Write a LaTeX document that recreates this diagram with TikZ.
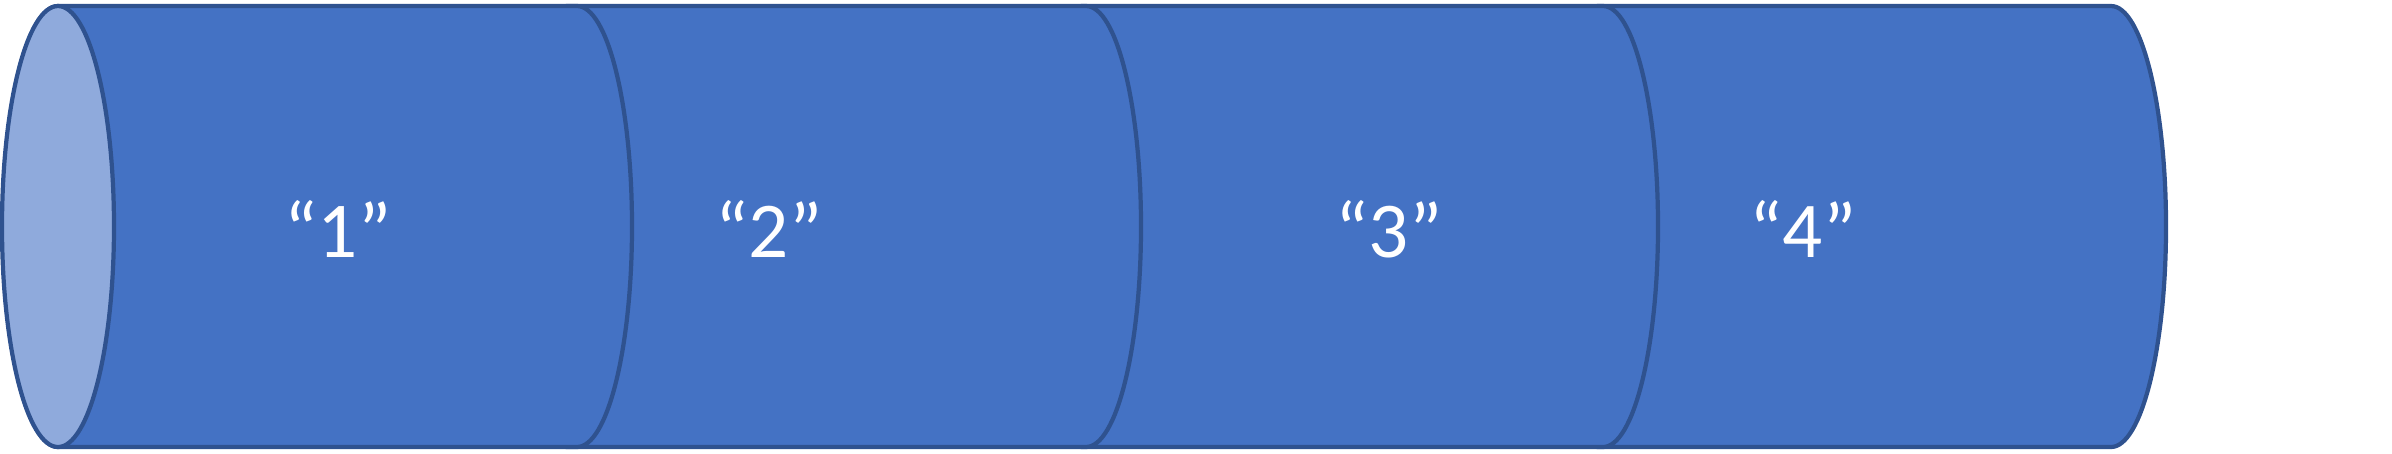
\documentclass[tikz,border=0pt]{standalone}
\usepackage{fontspec}
\setmainfont{Carlito}
\usetikzlibrary{positioning}
\definecolor{cylFill}{HTML}{4472C4}
\definecolor{cylEdge}{HTML}{2F528F}
\definecolor{cylFace}{HTML}{8FAADC}
\tikzstyle{cylBody} = [fill=cylFill, draw=cylEdge, line width=1.2pt, line join=round]
\tikzstyle{cylEnd} = [fill=cylFace, draw=cylEdge, line width=1.2pt]
\tikzstyle{cylLabel} = [text=white, font=\fontsize{22.5}{27}\selectfont, inner sep=0pt]
\begin{document}
\begin{tikzpicture}[x=0.01cm,y=0.01cm]
      \useasboundingbox (0,0) rectangle (2392,453);
      \foreach \l/\r in {1598/2111,1082/1603,567/1086,58/577}
        \draw[cylBody] (\l,447) -- (\r,447) arc[start angle=90,end angle=-90,x radius=55,y radius=220.5] -- (\l,6) arc[start angle=270,end angle=90,x radius=55,y radius=220.5] -- cycle;
      \draw[cylEnd] (58,226.5) ellipse [x radius=56, y radius=220.5];
      \node[cylLabel] (one) at (338,224) {“1”};
      \node[cylLabel] (two) at (769,224) {“2”};
      \node[cylLabel] (three) at (1389,224) {“3”};
      \node[cylLabel] (four) at (1803,224) {“4”};
    \end{tikzpicture}
\end{document}
